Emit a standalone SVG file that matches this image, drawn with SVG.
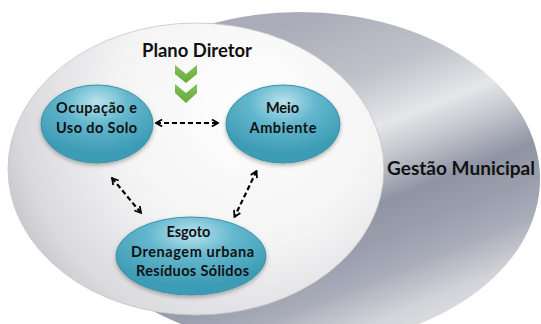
<svg xmlns="http://www.w3.org/2000/svg" width="541" height="324" viewBox="0 0 541 324">
<defs>
<linearGradient id="grayG" gradientUnits="userSpaceOnUse" x1="330" y1="10" x2="452" y2="317">
<stop offset="0" stop-color="#aaadb9"/>
<stop offset="0.22" stop-color="#c0c2ca"/>
<stop offset="0.38" stop-color="#e5e6e9"/>
<stop offset="0.47" stop-color="#c6c8cf"/>
<stop offset="0.60" stop-color="#8f94a4"/>
<stop offset="0.70" stop-color="#9a9eac"/>
<stop offset="0.80" stop-color="#a8abb8"/>
<stop offset="0.93" stop-color="#d3d4d9"/>
<stop offset="1" stop-color="#dcdde1"/>
</linearGradient>
<radialGradient id="whiteG" gradientUnits="userSpaceOnUse" cx="250" cy="110" r="270">
<stop offset="0" stop-color="#ffffff"/>
<stop offset="0.5" stop-color="#f4f4f5"/>
<stop offset="0.85" stop-color="#dadadd"/>
<stop offset="1" stop-color="#c0c1c6"/>
</radialGradient>
<radialGradient id="nodeG" cx="50%" cy="22%" r="65%">
<stop offset="0" stop-color="#b9e3ee"/>
<stop offset="0.45" stop-color="#63b7cd"/>
<stop offset="1" stop-color="#3e9cb5"/>
</radialGradient>
<linearGradient id="chevG" x1="0" y1="0" x2="0" y2="1">
<stop offset="0" stop-color="#82c458"/>
<stop offset="1" stop-color="#67a940"/>
</linearGradient>
<filter id="sh" x="-20%" y="-20%" width="140%" height="150%">
<feDropShadow dx="0" dy="2" stdDeviation="2" flood-color="#000" flood-opacity="0.3"/>
</filter>
<marker id="ah" viewBox="0 0 10 10" refX="8.5" refY="5" markerWidth="4" markerHeight="4" orient="auto-start-reverse" markerUnits="strokeWidth">
<path d="M1.5,1 L8.5,5 L1.5,9" fill="none" stroke="#000" stroke-width="2"/>
</marker>
<style>
.lbl{font-family:Lato,"Liberation Sans",sans-serif;font-weight:bold;fill:#111;text-anchor:middle}
.nd{font-size:14.5px}
.node{fill:url(#nodeG);stroke:#3a92a9;stroke-width:1;filter:url(#sh)}
.conn{fill:none;stroke:#000;stroke-width:2.2;stroke-dasharray:5 3;marker-start:url(#ah);marker-end:url(#ah)}
</style>
</defs>

<g id="gestao-municipal">
<ellipse cx="300" cy="179" rx="240" ry="167" fill="url(#grayG)"/>
<text class="lbl" x="461" y="175" font-size="19" textLength="148" lengthAdjust="spacingAndGlyphs">Gestão Municipal</text>
</g>

<g id="plano-diretor-area">
<ellipse cx="196" cy="169" rx="188" ry="146" fill="url(#whiteG)" stroke="#c4c5c9" stroke-width="0.8"/>
<text class="lbl" x="197" y="57" font-size="18" textLength="110" lengthAdjust="spacingAndGlyphs">Plano Diretor</text>
<polygon points="175,65 186,74 197,65 197,74 186,83 175,74" fill="url(#chevG)"/>
<polygon points="175,84 186,93 197,84 197,93 186,103 175,93" fill="url(#chevG)"/>
</g>

<g id="connectors">
<line class="conn" x1="156" y1="123" x2="218" y2="123"/>
<line class="conn" x1="112" y1="178" x2="141" y2="213"/>
<line class="conn" x1="256.5" y1="171" x2="234.5" y2="217"/>
</g>

<g id="node-ocupacao">
<ellipse class="node" cx="97" cy="124" rx="56" ry="39"/>
<text class="lbl nd" x="96.5" y="113" textLength="81" lengthAdjust="spacing">Ocupação e</text>
<text class="lbl nd" x="96.5" y="133" textLength="81" lengthAdjust="spacing">Uso do Solo</text>
</g>

<g id="node-meio-ambiente">
<ellipse class="node" cx="283" cy="124" rx="57" ry="39"/>
<text class="lbl nd" x="282.5" y="113">Meio</text>
<text class="lbl nd" x="283" y="133" textLength="67" lengthAdjust="spacing">Ambiente</text>
</g>

<g id="node-esgoto">
<ellipse class="node" cx="191" cy="256" rx="75" ry="39"/>
<text class="lbl nd" x="188.5" y="237">Esgoto</text>
<text class="lbl nd" x="192.5" y="257" textLength="123" lengthAdjust="spacing">Drenagem urbana</text>
<text class="lbl nd" x="192.5" y="276" textLength="113" lengthAdjust="spacing">Resíduos Sólidos</text>
</g>
</svg>
